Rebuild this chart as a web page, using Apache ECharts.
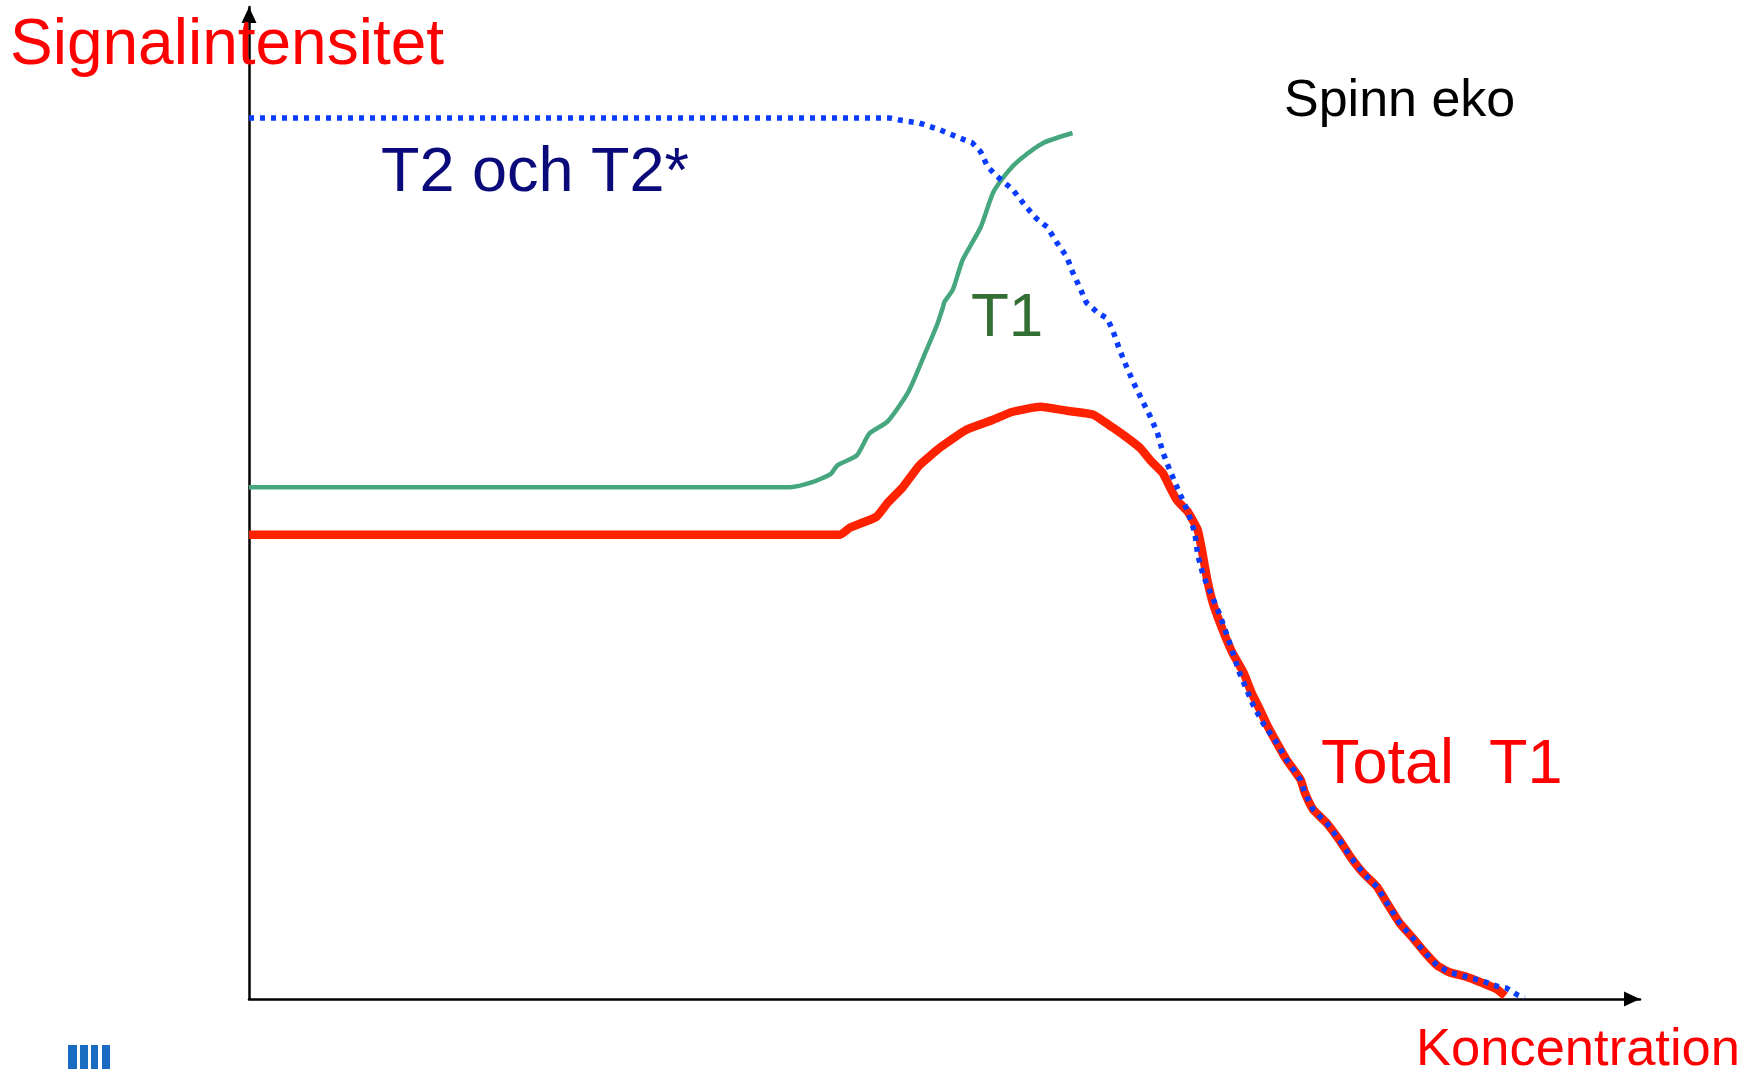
<!DOCTYPE html>
<html>
<head>
<meta charset="utf-8">
<script src="https://cdn.jsdelivr.net/npm/echarts@6/dist/echarts.min.js"></script>
<style>
html,body{margin:0;padding:0;background:#fff;}
#chart{width:1746px;height:1069px;}
</style>
</head>
<body>
<div id="chart"></div>
<script>
// Labels
var yAxisTitle = 'Signalintensitet';
var xAxisTitle = 'Koncentration';
var sequenceLabel = 'Spinn eko';
var t2Label = 'T2 och T2*';
var t1Label = 'T1';
var totalLabel = 'Total  T1';

// T2 och T2* (blue dotted)
var t2Conc = [0, 46.1, 46.8, 48.2, 49.7, 51.1, 52.0, 52.6, 53.1, 53.8, 54.9, 55.9, 56.6, 57.4, 58.1, 58.8, 59.2, 59.7, 60.2, 61.0, 61.7, 62.1, 62.6, 63.1, 63.6, 64.3, 64.8, 65.3, 65.7, 66.2, 66.9, 67.5, 68.0, 68.2, 68.6, 69.2, 69.8, 70.5, 71.2, 72.2, 72.9, 73.9, 74.6, 75.6, 75.9, 76.5, 77.5, 78.4, 79.2, 80.1, 81.1, 81.8, 82.7, 83.7, 84.4, 85.4, 86.3, 87.6, 88.7, 89.7, 90.4, 91.2, 91.7];
var t2Signal = [88.8, 88.8, 88.6, 88.3, 87.6, 86.8, 86.3, 85.4, 83.9, 82.9, 81.6, 79.8, 78.7, 77.8, 76.2, 74.8, 73.3, 71.8, 70.2, 69.2, 68.6, 67.4, 65.4, 63.7, 62.1, 60.1, 58.7, 57.1, 55.1, 53.3, 51.0, 49.1, 47.0, 44.8, 42.7, 40.7, 38.7, 35.9, 32.9, 29.6, 27.8, 25.8, 24.1, 22.1, 20.8, 19.1, 17.7, 16.0, 14.3, 12.7, 11.3, 9.7, 7.7, 6.1, 4.9, 3.4, 2.7, 2.2, 1.8, 1.3, 1.1, 0.4, 0.1];

// T1 (green)
var t1Conc = [0, 38.9, 40.5, 41.8, 42.3, 43.7, 44.6, 45.9, 47.4, 48.7, 49.5, 49.9, 50.0, 50.6, 51.3, 52.6, 53.5, 54.5, 55.4, 57.1, 59.2];
var t1Signal = [51.6, 51.6, 52.1, 52.9, 53.8, 54.8, 57.0, 58.2, 61.2, 65.4, 68.1, 69.8, 70.3, 71.5, 74.5, 77.8, 81.3, 83.3, 84.6, 86.3, 87.3];

// Total T1 (red)
var totalConc = [0, 42.5, 43.2, 45.1, 45.9, 47.0, 48.2, 49.7, 51.6, 53.5, 54.9, 56.9, 58.8, 60.7, 62.1, 63.3, 64.1, 64.8, 65.7, 66.2, 66.7, 67.5, 68.2, 68.5, 68.9, 69.3, 70.0, 70.7, 71.5, 72.1, 72.7, 73.2, 73.9, 74.6, 75.6, 75.9, 76.5, 77.5, 78.4, 79.2, 80.1, 81.1, 81.8, 82.7, 83.7, 84.4, 85.4, 86.3, 87.6, 88.7, 89.7, 90.3];
var totalSignal = [46.8, 46.8, 47.5, 48.6, 50.0, 51.6, 53.8, 55.6, 57.4, 58.4, 59.2, 59.7, 59.3, 58.9, 57.6, 56.4, 55.5, 54.3, 53.0, 51.6, 50.3, 49.1, 47.3, 45.3, 42.2, 39.9, 37.2, 34.9, 32.9, 30.8, 29.1, 27.6, 25.8, 24.1, 22.1, 20.8, 19.1, 17.7, 16.0, 14.3, 12.7, 11.3, 9.7, 7.7, 6.1, 4.9, 3.4, 2.7, 2.2, 1.6, 1.0, 0.3];

function zip(xs, ys) { return xs.map(function (x, i) { return [x, ys[i]]; }); }

var chart = echarts.init(document.getElementById('chart'), null, {renderer: 'canvas'});
var FONT = '"Liberation Sans", Arial, sans-serif';

var axisCommon = {
  type: 'value', min: 0, max: 100,
  axisTick: {show: false}, axisLabel: {show: false}, splitLine: {show: false}
};
var axisLineStyle = {show: true, onZero: false, lineStyle: {color: '#000', width: 2.5},
  symbol: ['none', 'triangle'], symbolSize: [15, 16], symbolOffset: [0, -8]};

chart.setOption({
  backgroundColor: '#ffffff',
  animation: false,
  grid: {left: 249, right: 106, top: 7, bottom: 70},
  xAxis: Object.assign({}, axisCommon, {axisLine: axisLineStyle}),
  yAxis: Object.assign({}, axisCommon, {axisLine: axisLineStyle}),
  series: [
    {
      name: t1Label, type: 'line', data: zip(t1Conc, t1Signal),
      showSymbol: false, clip: false, z: 2, smooth: 0.2,
      lineStyle: {color: '#46a77e', width: 4.5, join: 'round'}
    },
    {
      name: totalLabel, type: 'line', data: zip(totalConc, totalSignal),
      showSymbol: false, clip: false, z: 3, smooth: 0.15,
      lineStyle: {color: '#ff2200', width: 8.5, join: 'round', cap: 'butt'}
    },
    {
      name: t2Label, type: 'line', data: zip(t2Conc, t2Signal),
      showSymbol: false, clip: false, z: 4,
      lineStyle: {color: '#0a3cff', width: 5.5, type: [5, 6], cap: 'butt'}
    }
  ],
  graphic: [
    {type: 'text', x: 10, y: 46.5, z: 10,
      style: {text: yAxisTitle, fill: '#ff0000', font: '64px ' + FONT, verticalAlign: 'middle'}},
    {type: 'text', x: 1416, y: 1050.5, z: 10,
      style: {text: xAxisTitle, fill: '#ff0000', font: '52.5px ' + FONT, verticalAlign: 'middle'}},
    {type: 'text', x: 1284, y: 102, z: 10,
      style: {text: sequenceLabel, fill: '#000000', font: '52px ' + FONT, verticalAlign: 'middle'}},
    {type: 'text', x: 381, y: 174, z: 10,
      style: {text: t2Label, fill: '#0a0a7a', font: '63px ' + FONT, verticalAlign: 'middle'}},
    {type: 'text', x: 971, y: 319, z: 10,
      style: {text: t1Label, fill: '#336e33', font: '62px ' + FONT, verticalAlign: 'middle'}},
    {type: 'text', x: 1321, y: 766, z: 10,
      style: {text: totalLabel, fill: '#ff0000', font: '63px ' + FONT, verticalAlign: 'middle'}},
    {type: 'rect', shape: {x: 68, y: 1045, width: 9, height: 24}, style: {fill: '#1a6cc2'}},
    {type: 'rect', shape: {x: 80, y: 1045, width: 8, height: 24}, style: {fill: '#1a6cc2'}},
    {type: 'rect', shape: {x: 91, y: 1045, width: 7, height: 24}, style: {fill: '#1a6cc2'}},
    {type: 'rect', shape: {x: 102, y: 1045, width: 8, height: 24}, style: {fill: '#1a6cc2'}}
  ]
});
</script>
</body>
</html>
